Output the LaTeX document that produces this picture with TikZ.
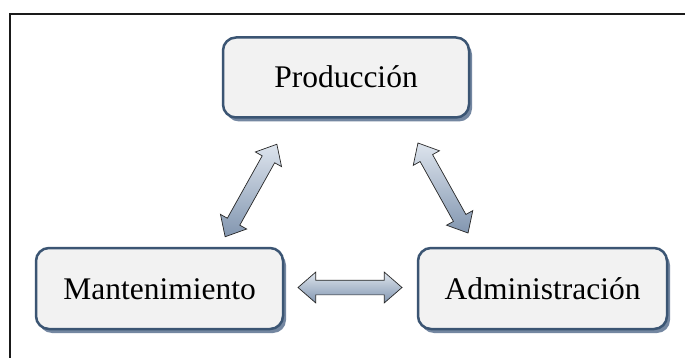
\documentclass[tikz,border=0pt]{standalone}
\usepackage{fontspec}
\setmainfont{Liberation Serif}
\usetikzlibrary{shapes.arrows,shadows,positioning}
\definecolor{boxfill}{HTML}{F2F2F2}
\definecolor{boxline}{HTML}{3B5573}
\definecolor{shadowc}{HTML}{52698A}
\definecolor{arrtop}{HTML}{DDE4ED}
\definecolor{arrbot}{HTML}{8296B0}
\definecolor{framec}{HTML}{1A1A1A}
\tikzset{
  stagebox/.style={draw=boxline, line width=2.5pt, fill=boxfill, rounded corners=13pt,
    minimum width=246pt, minimum height=80pt, inner sep=0pt,
    font=\fontsize{31.5}{36}\selectfont, text height=21pt, text depth=0pt,
    drop shadow={shadow xshift=3pt, shadow yshift=-4pt, fill=shadowc, opacity=0.8}},
  blockarrow/.style={double arrow, draw=black!85, line width=0.7pt,
    inner xsep=0pt, inner ysep=7pt,
    minimum width=30pt, double arrow head extend=8pt, double arrow tip angle=82,
    minimum height=104pt, top color=arrtop, bottom color=arrbot},
}
\begin{document}
\begin{tikzpicture}[x=1pt,y=-1pt]
\useasboundingbox (0,0) rectangle (685,358);
\fill[white] (0,0) rectangle (685,358);
% frame
\draw[framec, line width=2pt] (10,360) -- (10,14) -- (687,14);
% boxes
\node[stagebox] (prod)  at (346,77.5)  {Producción};
\node[stagebox, minimum width=247pt, minimum height=81pt] (mant)  at (159.5,288.5) {Mantenimiento};
\node[stagebox, minimum width=249pt, minimum height=81pt] (admin) at (542.5,288.5) {Administración};
% block arrows
\node[blockarrow, minimum height=106pt, inner ysep=6pt, double arrow head extend=7pt, rotate=60.8] (aleft) at (251,190.5) {};
\node[blockarrow, minimum height=103pt, inner ysep=6pt, double arrow head extend=7pt, rotate=-60.9] (aright) at (443,188) {};
\node[blockarrow] (abottom) at (350,287.5) {};
\end{tikzpicture}
\end{document}
